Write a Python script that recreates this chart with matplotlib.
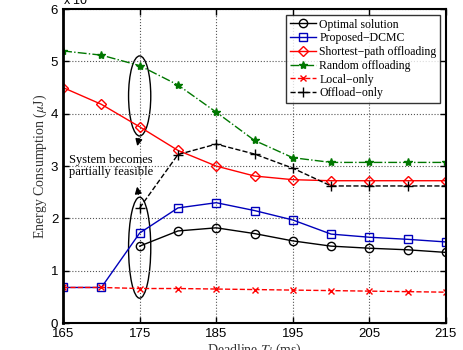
import numpy as np
import matplotlib.pyplot as plt
from matplotlib.patches import Ellipse

deadline = [165, 170, 175, 180, 185, 190, 195, 200, 205, 210, 215]
deadline_feasible = [175, 180, 185, 190, 195, 200, 205, 210, 215]

optimal = [1.47, 1.76, 1.82, 1.71, 1.57, 1.47, 1.43, 1.40, 1.35]
dcmc = [0.68, 0.68, 1.72, 2.20, 2.30, 2.15, 1.97, 1.70, 1.64, 1.60, 1.55]
shortest = [4.50, 4.18, 3.75, 3.30, 3.00, 2.81, 2.74, 2.72, 2.72, 2.72, 2.72]
random_off = [5.20, 5.12, 4.92, 4.55, 4.03, 3.49, 3.16, 3.07, 3.07, 3.07, 3.07]
local_only = [0.68, 0.68, 0.66, 0.66, 0.65, 0.64, 0.63, 0.62, 0.61, 0.60, 0.59]
offload_only = [2.20, 3.22, 3.42, 3.23, 2.96, 2.62, 2.62, 2.62, 2.62]

serif = ['Liberation Serif', 'DejaVu Serif']
plt.rcParams['font.family'] = ['Liberation Sans', 'DejaVu Sans']
plt.rcParams['mathtext.fontset'] = 'stix'

fig = plt.figure(figsize=(4.64, 3.5), dpi=100)
ax = fig.add_axes([0.136, 0.077, 0.825, 0.897])

ms = 6
ax.plot(deadline_feasible, optimal, '-', color='black', marker='o', mfc='none', ms=ms, lw=1, label='Optimal solution')
ax.plot(deadline, dcmc, '-', color='#0000bb', marker='s', mfc='none', ms=ms, lw=1, label='Proposed\u2212DCMC')
ax.plot(deadline, shortest, '-', color='red', marker='D', mfc='none', ms=ms - 0.5, lw=1, label='Shortest\u2212path offloading')
ax.plot(deadline, random_off, '-.', color='#007700', marker='*', ms=ms, lw=1, label='Random offloading')
ax.plot(deadline, local_only, '--', color='red', marker='x', ms=ms - 1, lw=1, label='Local\u2212only')
ax.plot(deadline_feasible, offload_only, '--', color='black', marker='+', ms=ms + 1, lw=1, label='Offload\u2212only')

ax.set_xlim(165, 215)
ax.set_ylim(0, 6)
ax.set_xticks([165, 175, 185, 195, 205, 215])
ax.set_yticks([0, 1, 2, 3, 4, 5, 6])
ax.tick_params(direction='in', labelsize=9.5, width=1, length=4, top=True, right=True)
ax.grid(True, linestyle=':', color='#555555', lw=0.8)
for s in ax.spines.values():
    s.set_linewidth(1.5)
ax.spines['left'].set_linewidth(2)

ax.set_ylabel(r'Energy Consumption ($\mu$J)', family=serif, fontsize=10, color='#333333', labelpad=1)
ax.set_xlabel(r'Deadline $T_l$ (ms)', family=serif, fontsize=10, color='#333333', labelpad=1)

ax.text(0.0, 1.003, r'x 10$^{4}$', transform=ax.transAxes, fontsize=9, va='bottom', ha='left')

# annotations
ax.add_patch(Ellipse((175, 4.34), 2.9, 1.53, fill=False, ec='black', lw=1))
ax.add_patch(Ellipse((175, 1.44), 2.9, 1.93, fill=False, ec='black', lw=1))
ax.annotate('', xy=(174.6, 3.33), xytext=(175.0, 3.58),
            arrowprops=dict(arrowstyle='-|>', color='black', lw=1, mutation_scale=10))
ax.annotate('', xy=(174.6, 2.66), xytext=(174.9, 2.41),
            arrowprops=dict(arrowstyle='-|>', color='black', lw=1, mutation_scale=10))
ax.text(165.8, 3.0, 'System becomes\npartially feasible', family=serif, fontsize=9,
        ha='left', va='center', linespacing=1.0)

leg = ax.legend(loc='upper right', prop={'family': serif, 'size': 8.5}, frameon=True,
                fancybox=False, edgecolor='black', borderpad=0.3, labelspacing=0.15,
                handlelength=2.2, handletextpad=0.3, borderaxespad=0.5)
leg.get_frame().set_linewidth(1)

fig.savefig('out.png', dpi=100)
